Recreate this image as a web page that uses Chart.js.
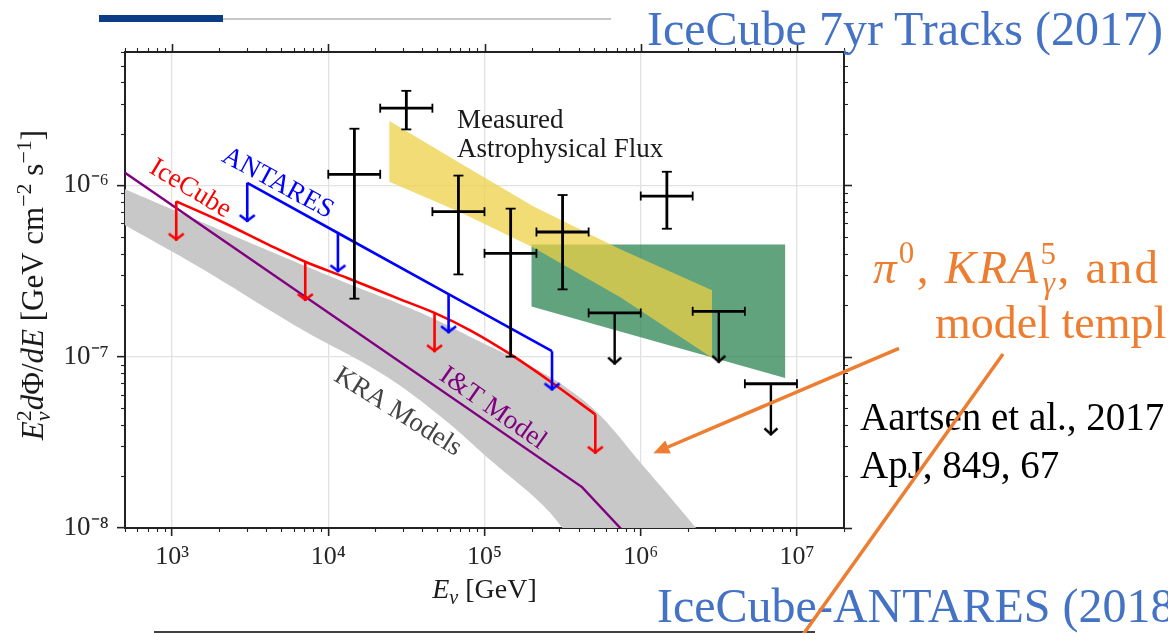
<!DOCTYPE html>
<html>
<head>
<meta charset="utf-8">
<title>Neutrino flux limits</title>
<script src="https://cdn.jsdelivr.net/npm/chart.js@4.4.1/dist/chart.umd.min.js"></script>
<style>
  html, body { margin: 0; padding: 0; background: #ffffff; overflow: hidden; }
  #wrap { position: relative; width: 1168px; height: 633px; overflow: hidden; }
  #chartBox { position: absolute; left: 0; top: 0; width: 1168px; height: 633px; }
  #deco { position: absolute; left: 0; top: 0; width: 1168px; height: 633px; pointer-events: none; }
</style>
</head>
<body>
<div id="wrap">
  <div id="chartBox"><canvas id="flux"></canvas></div>
  <svg id="deco" width="1168" height="633" viewBox="0 0 1168 633" xmlns="http://www.w3.org/2000/svg">
    <rect x="99" y="15" width="124" height="7" fill="#0b3d86"/>
    <line x1="223" y1="19" x2="611" y2="19" stroke="#b4b4b4" stroke-width="1.5"/>
    <text x="647" y="45" font-family="Liberation Serif" font-size="48" fill="#4472C4">IceCube 7yr Tracks (2017)</text>

    <text x="873" y="283" font-family="Liberation Serif" font-size="47" fill="#ED7D31" textLength="285" lengthAdjust="spacing"><tspan font-style="italic">π</tspan><tspan font-size="31" dy="-20">0</tspan><tspan dy="20">, </tspan><tspan font-style="italic">KRA</tspan><tspan font-size="31" dy="-19">5</tspan><tspan font-size="31" font-style="italic" dx="-15.5" dy="29">γ</tspan><tspan dy="-10">, and</tspan></text>
    <text x="935" y="338" font-family="Liberation Serif" font-size="46" fill="#ED7D31">model templates</text>

    <text x="860" y="430" font-family="Liberation Serif" font-size="39" fill="#000000">Aartsen et al., 2017</text>
    <text x="860" y="478" font-family="Liberation Serif" font-size="39" fill="#000000">ApJ, 849, 67</text>

    <text x="657" y="622" font-family="Liberation Serif" font-size="48" fill="#4472C4">IceCube-ANTARES (2018)</text>
    <line x1="154" y1="632" x2="815" y2="632" stroke="#000000" stroke-width="1.6"/>

    <!-- callout pointing at the diffuse-model band -->
    <line x1="899" y1="348.3" x2="668" y2="447" stroke="#ED7D31" stroke-width="3.5"/>
    <polygon points="653.3,453.3 670.8,453.4 665.3,440.6" fill="#ED7D31"/>
    <line x1="1003" y1="354" x2="802" y2="636" stroke="#ED7D31" stroke-width="3.5"/>
  </svg>
</div>

<script>
// ---------------- axis ranges and tick labels ----------------
const xRange = [500, 2e7];          // E_nu [GeV]
const yRange = [1e-8, 6e-6];        // E^2 dPhi/dE [GeV cm^-2 s^-1]
const xMajor = [1e3, 1e4, 1e5, 1e6, 1e7];
const xTickLabels = ['10³', '10⁴', '10⁵', '10⁶', '10⁷'];
const yMajor = [1e-8, 1e-7, 1e-6];
const yTickLabels = ['10⁻⁸', '10⁻⁷', '10⁻⁶'];

// ---------------- measured astrophysical spectrum (unfolded bins) ----------------
const binCenter = [1.47e4, 3.16e4, 6.81e4, 1.47e5, 3.16e5, 1.47e6];
const binLow    = [1.00e4, 2.15e4, 4.64e4, 1.00e5, 2.15e5, 1.00e6];
const binHigh   = [2.15e4, 4.64e4, 1.00e5, 2.15e5, 4.64e5, 2.15e6];
const fluxBest  = [1.16e-6, 2.82e-6, 7.02e-7, 4.01e-7, 5.34e-7, 8.66e-7];
const fluxLow   = [2.18e-7, 2.12e-6, 3.02e-7, 1.00e-7, 2.47e-7, 5.58e-7];
const fluxHigh  = [2.14e-6, 3.56e-6, 1.14e-6, 7.31e-7, 8.78e-7, 1.20e-6];

// bins with upper limits only
const ulCenter = [6.81e5, 3.16e6, 6.81e6];
const ulLow    = [4.64e5, 2.15e6, 4.64e6];
const ulHigh   = [1.00e6, 4.64e6, 1.00e7];
const ulFlux   = [1.80e-7, 1.84e-7, 6.95e-8];

// ---------------- measured astrophysical flux band (yellow) ----------------
const astroE     = [2.46e4, 7.0e4, 2.05e5, 7.4e5, 2.86e6];
const astroUpper = [2.37e-6, 1.344e-6, 7.54e-7, 4.23e-7, 2.44e-7];
const astroLower = [1.05e-6, 6.96e-7, 4.34e-7, 2.22e-7, 9.85e-8];

// ---------------- high-energy flux region (green) ----------------
const highE      = [2.0e5, 8.4e6];
const highUpper  = [4.52e-7, 4.52e-7];
const highLower  = [1.96e-7, 7.5e-8];

// ---------------- KRA model envelope (grey) ----------------
const kraUpperE = [500, 1.515e3, 4.93e3, 1.383e4, 3.88e4, 9.40e4, 2.276e5, 3.54e5, 5.51e5, 9.94e5, 2.303e6, 3.23e6];
const kraUpper  = [9.48e-7, 6.16e-7, 3.90e-7, 2.64e-7, 1.81e-7, 1.22e-7, 8.20e-8, 6.35e-8, 4.53e-8, 2.41e-8, 9.79e-9, 6.5e-9];
const kraLowerE = [500, 1.515e3, 6.61e3, 2.152e4, 5.21e4, 1.144e5, 2.276e5, 3.21e5, 4.11e5];
const kraLower  = [5.84e-7, 3.30e-7, 1.46e-7, 8.05e-8, 4.49e-8, 2.40e-8, 1.402e-8, 9.79e-9, 7.0e-9];

// ---------------- I&T model ----------------
const itE    = [500, 4.21e5, 7.40e5, 1.0e6];
const itFlux = [1.185e-6, 1.733e-8, 1.0e-8, 7.5e-9];

// ---------------- IceCube sensitivity (red) ----------------
const icSensE = [1064, 2035, 4254, 7124, 1.323e4, 2.89e4, 4.79e4, 8.15e4, 1.469e5, 2.638e5, 5.12e5];
const icSens  = [8.06e-7, 6.19e-7, 4.45e-7, 3.58e-7, 2.88e-7, 2.16e-7, 1.80e-7, 1.42e-7, 1.03e-7, 7.16e-8, 4.60e-8];
const icArrowAt = [0, 3, 6, 10];

// ---------------- ANTARES sensitivity (blue) ----------------
const antSensE = [3.03e3, 1.153e4, 5.89e4, 2.705e5];
const antSens  = [1.034e-6, 5.27e-7, 2.32e-7, 1.076e-7];
const antArrowAt = [0, 1, 2, 3];

// ---------------- drawing conventions ----------------
const UL_DROP = 0.5;     // upper-limit arrows span a factor of two
const SENS_DROP = 0.59;  // sensitivity arrows
const SERIF = '"Liberation Serif", "Times New Roman", serif';

const pts = (xs, ys) => xs.map((x, i) => ({ x, y: ys[i] }));
const polygon = (xt, yt, xb, yb) => pts(xt, yt).concat(pts(xb, yb).reverse());
const segs = pairs => pairs.flatMap(([a, b]) => [a, b, { x: b.x, y: null }]);
const isDecade = v => { const l = Math.log10(v); return Math.abs(l - Math.round(l)) < 1e-6; };
const matchIdx = (arr, v) => arr.findIndex(m => Math.abs(v / m - 1) < 1e-6);

function logTicks(lo, hi) {
  const out = [];
  for (let e = Math.floor(Math.log10(lo)); e <= Math.ceil(Math.log10(hi)); e++) {
    for (let m = 1; m <= 9; m++) {
      const v = +(m * Math.pow(10, e)).toPrecision(6);
      if (v >= lo * (1 - 1e-9) && v <= hi * (1 + 1e-9)) out.push(v);
    }
  }
  return out;
}

// open chevron used as arrow head; the tip sits at the image centre
function chevron(color, half, depth, lw) {
  const c = document.createElement('canvas');
  const w = Math.ceil(2 * half + 2 * lw);
  const h = Math.ceil(2 * (depth + lw));
  c.width = w; c.height = h;
  const g = c.getContext('2d');
  g.strokeStyle = color; g.lineWidth = lw; g.lineJoin = 'miter';
  g.beginPath();
  g.moveTo(w / 2 - half, h / 2 - depth);
  g.lineTo(w / 2, h / 2 - lw * 0.5);
  g.lineTo(w / 2 + half, h / 2 - depth);
  g.stroke();
  return c;
}
const headRed = chevron('#ff0000', 7.5, 7, 2.6);
const headBlue = chevron('#0000ff', 7.5, 7, 2.6);
const headBlack = chevron('#000000', 6.5, 7, 2.4);

// ---------------- derived geometry ----------------
const errH = binCenter.map((_, i) => [{ x: binLow[i], y: fluxBest[i] }, { x: binHigh[i], y: fluxBest[i] }]);
const errV = binCenter.map((e, i) => [{ x: e, y: fluxLow[i] }, { x: e, y: fluxHigh[i] }]);
const ulH = ulCenter.map((_, i) => [{ x: ulLow[i], y: ulFlux[i] }, { x: ulHigh[i], y: ulFlux[i] }]);
const ulV = ulCenter.map((e, i) => [{ x: e, y: ulFlux[i] }, { x: e, y: ulFlux[i] * UL_DROP }]);
const icStem = icArrowAt.map(i => [{ x: icSensE[i], y: icSens[i] }, { x: icSensE[i], y: icSens[i] * SENS_DROP }]);
const antStem = antArrowAt.map(i => [{ x: antSensE[i], y: antSens[i] }, { x: antSensE[i], y: antSens[i] * SENS_DROP }]);

const base = { type: 'line', pointRadius: 0, fill: false, spanGaps: false, tension: 0 };
const band = (label, data, color, order, extra) => Object.assign({}, base, {
  label, data, order, fill: 'shape', backgroundColor: color, borderColor: 'rgba(0,0,0,0)', borderWidth: 0
}, extra || {});
const path = (label, data, color, width, order, extra) => Object.assign({}, base, {
  label, data, order, borderColor: color, borderWidth: width
}, extra || {});
const marks = (label, data, style, order, extra) => Object.assign({}, base, {
  label, data, order, showLine: false, pointStyle: style, pointRadius: 6,
  pointBorderWidth: 0, pointBackgroundColor: 'rgba(0,0,0,0)'
}, extra || {});

const datasets = [
  band('KRA models', polygon(kraUpperE, kraUpper, kraLowerE, kraLower), 'rgb(200,200,200)', 30, { tension: 0.4 }),
  path('I&T model', pts(itE, itFlux), '#800080', 2.4, 29),
  path('IceCube', pts(icSensE, icSens), '#ff0000', 2.6, 28, { cubicInterpolationMode: 'monotone' }),
  path('IceCube arrows', segs(icStem), '#ff0000', 2.6, 27),
  marks('IceCube heads', icStem.map(s => s[1]), headRed, 26),
  path('ANTARES', pts(antSensE, antSens), '#0000ff', 2.6, 25),
  path('ANTARES arrows', segs(antStem), '#0000ff', 2.6, 24),
  marks('ANTARES heads', antStem.map(s => s[1]), headBlue, 23),
  band('High-energy region', polygon(highE, highUpper, highE, highLower), 'rgba(40,131,79,0.74)', 22),
  band('Measured astrophysical flux', polygon(astroE, astroUpper, astroE, astroLower), 'rgba(237,208,70,0.74)', 21),
  path('Data x-errors', segs(errH), '#000000', 2.8, 10),
  path('Data y-errors', segs(errV), '#000000', 2.8, 9),
  marks('x-error caps', errH.flat().concat(ulH.flat()), 'line', 8, { pointRadius: 4.5, pointRotation: 90, pointBorderWidth: 1.8, pointBorderColor: '#000000' }),
  marks('y-error caps', errV.flat(), 'line', 7, { pointRadius: 5, pointRotation: 0, pointBorderWidth: 1.8, pointBorderColor: '#000000' }),
  path('Upper limits', segs(ulH), '#000000', 2.8, 6),
  path('Upper limit arrows', segs(ulV), '#000000', 2.4, 5),
  marks('Upper limit heads', ulV.map(s => s[1]), headBlack, 4)
];

// ---------------- text placed in data coordinates ----------------
const plotLabels = [
  { text: 'IceCube',    x: 1.308e3, y: 9.54e-7, angle: 31,   color: '#ff0000' },
  { text: 'ANTARES',    x: 4.75e3,  y: 1.027e-6, angle: 28.5, color: '#0000ff' },
  { text: 'KRA Models', x: 2.786e4, y: 4.75e-8, angle: 32,   color: '#444444' },
  { text: 'I&T Model',  x: 1.13e5,  y: 4.98e-8, angle: 35,   color: '#800080' }
];
const noteLines = ['Measured', 'Astrophysical Flux'];
const noteAt = { x: 6.67e4, y: 2.17e-6 };

function richText(ctx, runs, x, y, size, align) {
  ctx.textAlign = 'left';
  ctx.textBaseline = 'alphabetic';
  const fonts = runs.map(r => (r.i ? 'italic ' : '') + Math.round(size * (r.s || 1)) + 'px ' + SERIF);
  const widths = runs.map((r, k) => { ctx.font = fonts[k]; return ctx.measureText(r.t).width; });
  // lay the runs out once, then draw
  const xs = [];
  let pos = 0, prevStart = 0, prevW = 0;
  runs.forEach((r, k) => {
    if (r.stack) { xs.push(prevStart); pos = prevStart + Math.max(prevW, widths[k]); }
    else { prevStart = pos; prevW = widths[k]; xs.push(pos); pos += widths[k]; }
  });
  const x0 = align === 'center' ? x - pos / 2 : x;
  runs.forEach((r, k) => {
    ctx.font = fonts[k];
    ctx.fillText(r.t, x0 + xs[k], y + (r.dy || 0) * size);
  });
}

const yTitle = [
  { t: 'E', i: 1 }, { t: '2', s: 0.7, dy: -0.4 }, { t: 'ν', i: 1, s: 0.7, dy: 0.22, stack: 1 },
  { t: 'd', i: 1 }, { t: 'Φ' }, { t: '/' }, { t: 'dE', i: 1 },
  { t: ' [GeV cm' }, { t: '−2', s: 0.7, dy: -0.4 }, { t: ' s' }, { t: '−1', s: 0.7, dy: -0.4 }, { t: ']' }
];
const xTitle = [{ t: 'E', i: 1 }, { t: 'ν', i: 1, s: 0.7, dy: 0.22 }, { t: ' [GeV]' }];

const annotations = {
  id: 'annotations',
  afterDatasetsDraw(chart) {
    const { ctx, scales: { x, y } } = chart;
    ctx.save();
    ctx.textAlign = 'center';
    ctx.textBaseline = 'middle';
    ctx.font = '27px ' + SERIF;
    for (const l of plotLabels) {
      ctx.save();
      ctx.translate(x.getPixelForValue(l.x), y.getPixelForValue(l.y));
      ctx.rotate(l.angle * Math.PI / 180);
      ctx.fillStyle = l.color;
      ctx.fillText(l.text, 0, 0);
      ctx.restore();
    }
    ctx.textAlign = 'left';
    ctx.textBaseline = 'alphabetic';
    ctx.fillStyle = '#1a1a1a';
    const nx = x.getPixelForValue(noteAt.x), ny = y.getPixelForValue(noteAt.y);
    noteLines.forEach((t, k) => ctx.fillText(t, nx, ny + k * 29));
    ctx.restore();
  },
  afterDraw(chart) {
    const { ctx, chartArea: a, scales: { x, y } } = chart;
    ctx.save();
    ctx.strokeStyle = '#222222';
    ctx.lineWidth = 2;
    ctx.beginPath();
    ctx.moveTo(a.left, a.top); ctx.lineTo(a.right, a.top); ctx.lineTo(a.right, a.bottom);
    ctx.stroke();
    const tick = (x1, y1, x2, y2, w) => { ctx.lineWidth = w; ctx.beginPath(); ctx.moveTo(x1, y1); ctx.lineTo(x2, y2); ctx.stroke(); };
    for (const t of x.ticks) {
      const px = Math.round(x.getPixelForValue(t.value)) + 0.5;
      const major = isDecade(t.value);
      const L = major ? 8 : 4, w = major ? 1.6 : 1.1;
      tick(px, a.top, px, a.top - L, w);
      if (!major) tick(px, a.bottom, px, a.bottom + L, w);
    }
    for (const t of y.ticks) {
      const py = Math.round(y.getPixelForValue(t.value)) + 0.5;
      const major = isDecade(t.value);
      const L = major ? 8 : 4, w = major ? 1.6 : 1.1;
      tick(a.right, py, a.right + L, py, w);
      if (!major) tick(a.left, py, a.left - L, py, w);
    }
    // axis titles
    ctx.fillStyle = '#1a1a1a';
    richText(ctx, xTitle, (a.left + a.right) / 2, 598, 28, 'center');
    ctx.translate(43, (a.top + a.bottom) / 2 - 5);
    ctx.rotate(-Math.PI / 2);
    richText(ctx, yTitle, 0, 0, 31, 'center');
    ctx.restore();
  }
};

const gridColor = c => (c.tick && isDecade(c.tick.value)) ? '#e2e2e2' : 'rgba(0,0,0,0)';
const tickColor = c => (c.tick && isDecade(c.tick.value)) ? '#222222' : 'rgba(0,0,0,0)';

new Chart(document.getElementById('flux'), {
  type: 'line',
  data: { datasets },
  options: {
    responsive: true,
    maintainAspectRatio: false,
    animation: false,
    events: [],
    layout: { padding: { left: 0, right: 324, top: 52, bottom: 0 } },
    plugins: { legend: { display: false }, tooltip: { enabled: false } },
    elements: { line: { capBezierPoints: false } },
    scales: {
      x: {
        type: 'logarithmic', position: 'bottom', min: xRange[0], max: xRange[1],
        afterBuildTicks: s => { s.ticks = logTicks(xRange[0], xRange[1]).map(v => ({ value: v })); },
        afterFit: s => { s.height = 105; },
        grid: { color: gridColor, lineWidth: 1.3, drawTicks: true, tickLength: 8, tickColor, tickWidth: 1.6 },
        border: { display: true, color: '#222222', width: 2 },
        ticks: {
          autoSkip: false, maxRotation: 0, minRotation: 0, padding: 6, color: '#262626',
          font: { family: SERIF, size: 26 },
          callback: v => { const k = matchIdx(xMajor, v); return k >= 0 ? xTickLabels[k] : ''; }
        }
      },
      y: {
        type: 'logarithmic', position: 'left', min: yRange[0], max: yRange[1],
        afterBuildTicks: s => { s.ticks = logTicks(yRange[0], yRange[1]).map(v => ({ value: v })); },
        afterFit: s => { s.width = 125; },
        grid: { color: gridColor, lineWidth: 1.3, drawTicks: true, tickLength: 8, tickColor, tickWidth: 1.6 },
        border: { display: true, color: '#222222', width: 2 },
        ticks: {
          autoSkip: false, padding: 8, color: '#262626',
          font: { family: SERIF, size: 27 },
          callback: v => { const k = matchIdx(yMajor, v); return k >= 0 ? yTickLabels[k] : ''; }
        }
      }
    }
  },
  plugins: [annotations]
});
</script>
</body>
</html>
